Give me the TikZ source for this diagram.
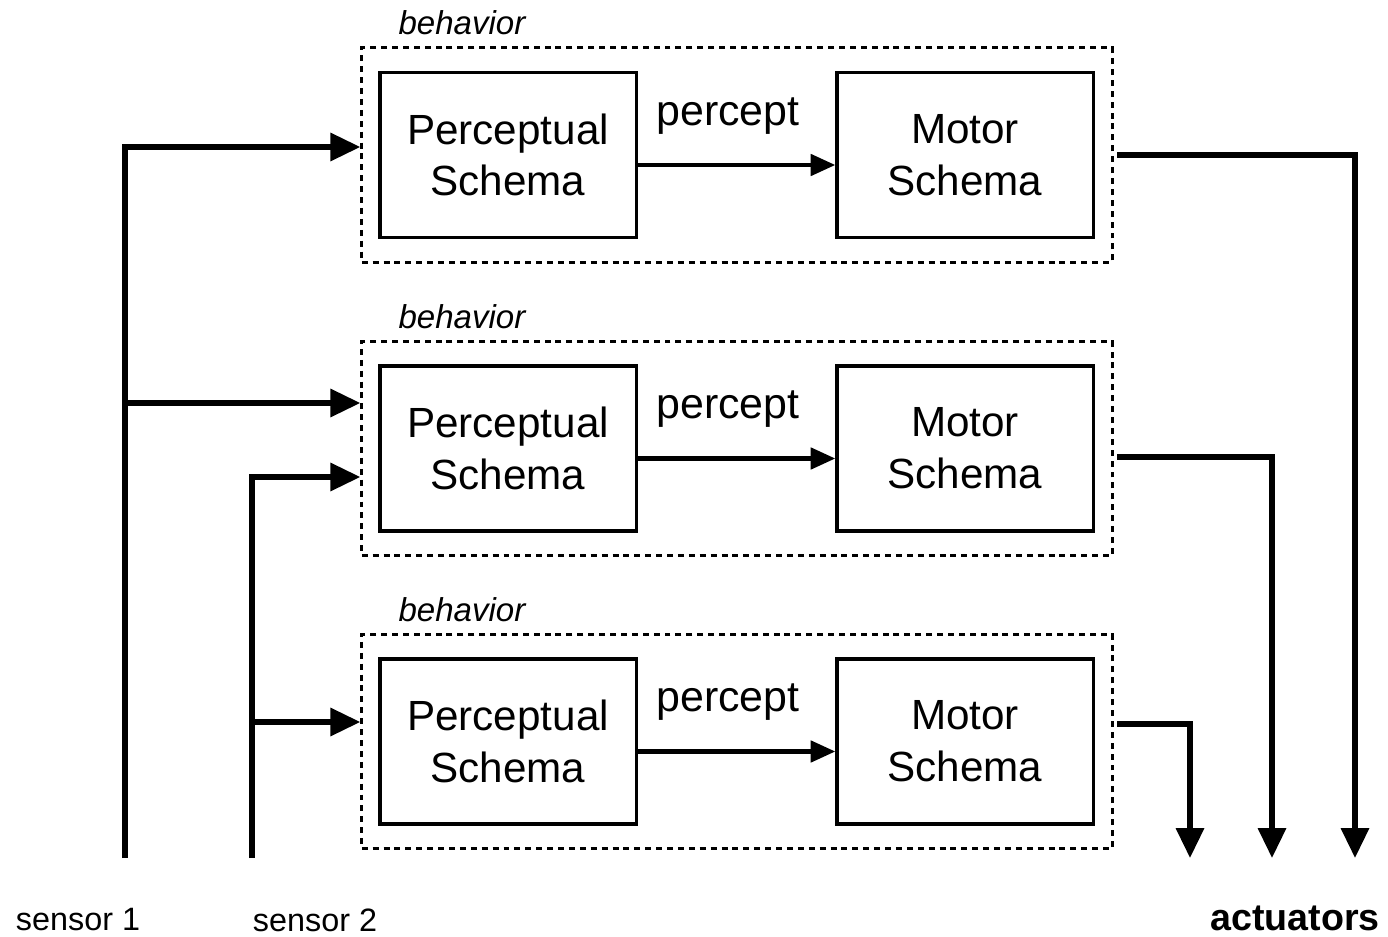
\documentclass[tikz,border=0pt]{standalone}
\usepackage{fontspec}
\setmainfont{Liberation Sans}
\usetikzlibrary{arrows.meta}
\begin{document}
\begin{tikzpicture}[x=0.01cm,y=-0.01cm,
  schema/.style={draw,line width=0.9pt,minimum width=2.56cm,minimum height=1.65cm,align=center,inner sep=0pt,font=\fontsize{12}{14.7}\selectfont},
  behbox/.style={draw,line width=0.85pt,dash pattern=on 1.7pt off 1.4pt,minimum width=7.5cm,minimum height=2.14cm,inner sep=0pt},
  behlabel/.style={font=\fontsize{9.4}{11}\selectfont\itshape,inner sep=0pt},
  wire/.style={line width=1.45pt,-{Triangle[length=8.5pt,width=7.8pt]}},
  pwire/.style={line width=1.25pt,-{Triangle[length=7pt,width=6pt]}},
  lbl/.style={font=\fontsize{9.2}{11}\selectfont,inner sep=0pt},
  perc/.style={font=\fontsize{12.2}{14}\selectfont,inner sep=0pt}]
\useasboundingbox (0,0) rectangle (1388,937);
% behaviors
\foreach \i/\y in {1/155,2/448.5,3/741.5}{
  \node[behbox] (b\i) at (737,\y) {};
  \node[schema] (p\i) at (508,\y) {Perceptual\\Schema};
  \node[schema] (m\i) at (965,\y) {Motor\\Schema};
  \node[behlabel] (l\i) at (462,\y-132) {behavior};
  \node[perc] (t\i) at (728,\y-39) {percept};
  \draw[pwire] (p\i.east |- 0,\y+10) -- (m\i.west |- 0,\y+10);
}
% sensors
\coordinate (s1) at (125,858);
\coordinate (s2) at (252,858);
\coordinate (j1) at (125,403);
\coordinate (j2) at (252,722);
\draw[wire] (s1) |- (b1.west |- 0,147);
\draw[wire] (j1) -- (b2.west |- j1);
\draw[wire] (s2) |- (b2.west |- 0,477);
\draw[wire] (j2) -- (b3.west |- j2);
% actuators
\coordinate (a1) at (1355,858);
\coordinate (a2) at (1272,858);
\coordinate (a3) at (1190,858);
\draw[wire] ([xshift=1pt]b1.east |- 0,155) -| (a1);
\draw[wire] ([xshift=1pt]b2.east |- 0,457) -| (a2);
\draw[wire] ([xshift=1pt]b3.east |- 0,724) -| (a3);
% labels
\node[lbl] (n1) at (78,920) {sensor 1};
\node[lbl] (n2) at (315,920) {sensor 2};
\node[lbl,font=\fontsize{10.7}{12}\selectfont\bfseries] (n3) at (1295,918) {actuators};
\end{tikzpicture}
\end{document}
